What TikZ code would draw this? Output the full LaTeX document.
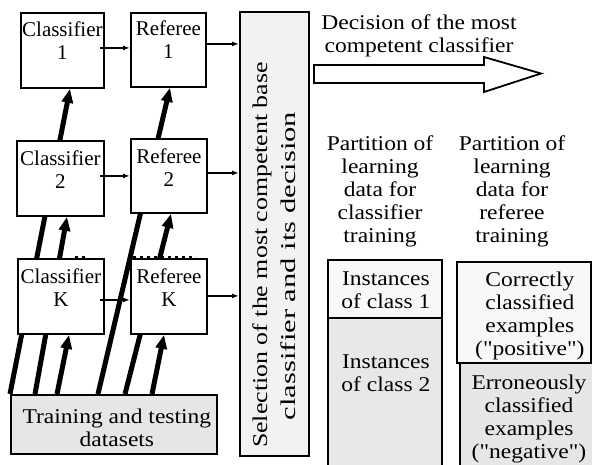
\documentclass[tikz,border=0pt]{standalone}
\usepackage{fontspec}
\setmainfont{Liberation Serif}
\newfontfamily\widefont{Liberation Serif}[FakeStretch=1.12]
\usetikzlibrary{arrows.meta,calc}
\definecolor{selfill}{RGB}{242,242,242}
\definecolor{trainfill}{RGB}{230,230,230}
\definecolor{lightfill}{RGB}{248,248,248}
\definecolor{darkfill}{RGB}{232,232,232}
\begin{document}
\begin{tikzpicture}[x=1pt,y=-1pt,
  box/.style={draw, line width=1.8pt, fill=white, inner sep=0pt, anchor=north west},
  lbl/.style={font=\fontsize{21}{23}\selectfont, align=center, anchor=base, inner sep=0pt},
  txt/.style={font=\widefont\fontsize{21}{23}\selectfont, align=center, anchor=base, inner sep=0pt},
  arr/.style={line width=1.5pt, -{Latex[length=7pt,width=5pt]}},
  fat/.style={line width=5pt, -{Triangle[length=14pt,width=11pt]}},
  dots/.style={line width=3pt, dash pattern=on 3pt off 4pt}
]
\useasboundingbox (0,0) rectangle (592,464);
\fill[white] (0,0) rectangle (592,464);

% training box first (lines start on its top)
\node[box, fill=trainfill, minimum width=206pt, minimum height=59pt] (train) at (10,394) {};
\node[box, minimum width=83pt, minimum height=75pt] (c1) at (20,12) {};
\node[box, minimum width=75pt, minimum height=74pt] (r1) at (130,12) {};

% thick arrows (behind the middle boxes)
\draw[fat] ($(train.north west)+(0,0)$) -- ($(c1.south west)+(50,0)$);
\draw[fat] ($(train.north west)+(88,0)$) -- ($(r1.south west)+(40,0)$);

\node[box, minimum width=87pt, minimum height=75pt] (c2) at (16,140) {};
\node[box, minimum width=76pt, minimum height=74pt] (r2) at (130,138) {};

\draw[fat] ($(train.north west)+(25,0)$) -- ($(c2.south west)+(51,0)$);
\draw[fat] ($(train.north west)+(115,0)$) -- ($(r2.south west)+(41,0)$);

\node[box, minimum width=86pt, minimum height=75pt] (cK) at (17,258) {};
\node[box, minimum width=76pt, minimum height=75pt] (rK) at (130,258) {};

\draw[fat] ($(train.north west)+(47,0)$) -- ($(cK.south west)+(52,0)$);
\draw[fat] ($(train.north west)+(142,0)$) -- ($(rK.south west)+(34,0)$);

\draw[dots] ($(cK.north west)+(58,-1)$) -- ($(cK.north west)+(71,-1)$);
\draw[dots] ($(rK.north west)+(3,-1)$) -- ($(rK.north west)+(66,-1)$);

% box labels (base = baseline of the last line)
\node[lbl] (c1t) at ($(c1.north)+(0,47)$) {Classifier\\1};
\node[lbl] (r1t) at ($(r1.north)+(0,46)$) {Referee\\1};
\node[lbl] (c2t) at ($(c2.north)+(0,48)$) {Classifier\\2};
\node[lbl] (r2t) at ($(r2.north)+(0,48)$) {Referee\\2};
\node[lbl] (cKt) at ($(cK.north)+(0,48)$) {Classifier\\K};
\node[lbl] (rKt) at ($(rK.north)+(0,48)$) {Referee\\K};
\node[txt] (traint) at ($(train.north)+(3,52)$) {Training and testing\\datasets};

% selection box
\node[box, fill=selfill, minimum width=69pt, minimum height=444pt] (sel) at (239,11) {};
\node[txt, rotate=90, anchor=center] (sel1) at (262,255) {\scalebox{1.1}[1]{Selection of the most competent base}};
\node[txt, rotate=90, anchor=center] (sel2) at (288,266) {\scalebox{1.3}[1]{classifier and its decision}};

% small arrows
\coordinate (a1) at ($(c1.east)+(-5,-2.5)$);
\draw[arr] (a1) -- (a1 -| r1.west);
\coordinate (b1) at ($(r1.east)+(0,-6)$);
\draw[arr] (b1) -- (b1 -| sel.west);
\coordinate (a2) at ($(c2.east)+(-5,-2.5)$);
\draw[arr] (a2) -- (a2 -| r2.west);
\coordinate (b2) at ($(r2.east)+(0,-3)$);
\draw[arr] (b2) -- (b2 -| sel.west);
\coordinate (aK) at ($(cK.east)+(-5,3.5)$);
\draw[arr] (aK) -- (aK -| rK.west);
\coordinate (bK) at ($(rK.east)+(0,-0.5)$);
\draw[arr] (bK) -- (bK -| sel.west);

% decision arrow
\node[txt] (dect) at (419,52) {Decision of the most\\competent classifier};
\draw[line width=1.8pt, fill=white, line join=miter]
  (314,65) -- (484,65) -- (484,57) -- (541,73.5) -- (484,92) -- (484,83) -- (314,83) -- cycle;

% partition texts
\node[txt] (p1) at (380,242) {Partition of\\learning\\data for\\classifier\\training};
\node[txt] (p2) at (512,242) {Partition of\\learning\\data for\\referee\\training};

% partition boxes
\node[box, fill=lightfill, minimum width=114pt, minimum height=58pt] (cls1) at (327,259) {};
\node[box, fill=darkfill, minimum width=114pt, minimum height=150pt] (cls2) at (327,317) {};
\node[txt] (cls1t) at ($(cls1.north)+(1,49)$) {Instances\\of class 1};
\node[txt] (cls2t) at ($(cls2.north)+(1,74)$) {Instances\\of class 2};

\node[box, fill=lightfill, minimum width=134pt, minimum height=101pt] (pos) at (456,261) {};
\node[box, fill=trainfill, minimum width=140pt, minimum height=105pt] (neg) at (459,362) {};
\node[txt] (post) at ($(pos.north)+(6,94)$) {Correctly\\classified\\examples\\("positive")};
\node[txt] (negt) at (529,458) {Erroneously\\classified\\examples\\("negative")};
\end{tikzpicture}
\end{document}
